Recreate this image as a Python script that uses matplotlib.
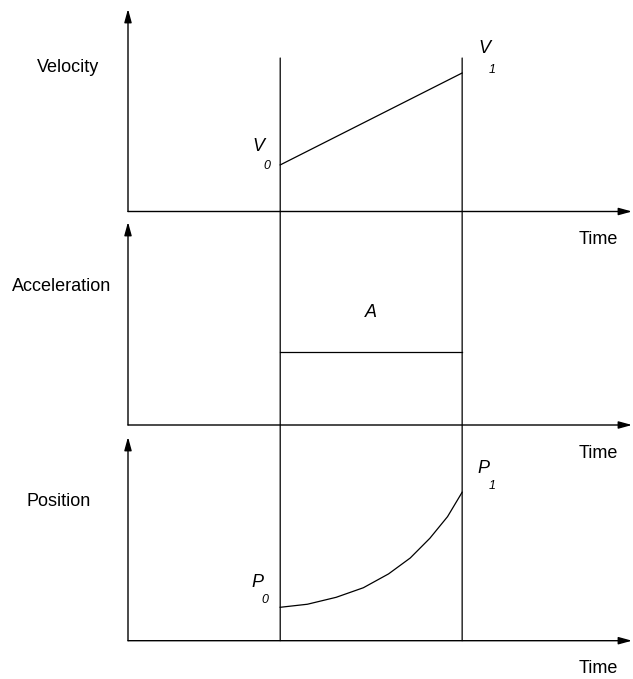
import matplotlib.pyplot as plt
from matplotlib.patches import ConnectionPatch

plt.rcParams['font.family'] = ['Liberation Sans', 'DejaVu Sans']

W, H = 633, 679

# schematic values (time and value units, both axes run 0..10)
t_marks = [3.02, 6.63]
velocity = [2.30, 6.84]
accel = 3.6
pos_t = [3.02, 3.56, 4.13, 4.67, 5.17, 5.60, 5.99, 6.34, 6.63]
pos_p = [1.64, 1.79, 2.13, 2.60, 3.28, 4.06, 5.03, 6.09, 7.29]
line_top = 7.58
panel_names = ["Velocity", "Acceleration", "Position"]

fig = plt.figure(figsize=(W / 100, H / 100), dpi=100)

# (baseline px, arrow tip px) for each panel
frames = [(211.5, 9), (425, 222), (640.7, 437)]
axes = []
for base, tip in frames:
    ax = fig.add_axes([128 / W, 1 - base / H, (632 - 128) / W, (base - tip) / H])
    ax.set_xlim(0, 10)
    ax.set_ylim(0, 10)
    ax.axis('off')
    arrow = dict(arrowstyle='-|>,head_length=0.8,head_width=0.22', lw=1.0,
                 color='black', shrinkA=0, shrinkB=0, mutation_scale=10)
    ax.annotate('', xy=(1, 0), xytext=(0, 0), xycoords='axes fraction',
                arrowprops=arrow)
    ax.annotate('', xy=(0, 1), xytext=(0, 0), xycoords='axes fraction',
                arrowprops=arrow)
    ax.annotate('Time', xy=(0.972, 0), xycoords='axes fraction',
                xytext=(0, -28), textcoords='offset pixels',
                ha='right', va='center', fontsize=13)
    axes.append(ax)
ax1, ax2, ax3 = axes

# panel titles on the left
label_pos = [(68, 67), (62, 286), (59, 502)]
for name, (x, y) in zip(panel_names, label_pos):
    fig.text(x / W, 1 - y / H, name, ha='center', va='center', fontsize=13)

# vertical time markers across all three panels
for t in t_marks:
    con = ConnectionPatch(xyA=(t, line_top), coordsA=ax1.transData,
                          xyB=(t, 0), coordsB=ax3.transData,
                          color='black', lw=0.9)
    fig.add_artist(con)

# velocity
ax1.plot(t_marks, velocity, color='black', lw=0.9)
# acceleration
ax2.plot(t_marks, [accel, accel], color='black', lw=0.9)
ax2.annotate('A', xy=(sum(t_marks) / 2, accel), xytext=(0, 39),
             textcoords='offset pixels', ha='center', va='center',
             fontsize=13, style='italic')
# position
ax3.plot(pos_t, pos_p, color='black', lw=0.9)


def point_label(ax, xy, letter, digit, off_l, off_d):
    ax.annotate(letter, xy=xy, xytext=off_l, textcoords='offset pixels',
                ha='center', va='center', fontsize=13, style='italic')
    ax.annotate(digit, xy=xy, xytext=off_d, textcoords='offset pixels',
                ha='center', va='center', fontsize=9, style='italic')


point_label(ax1, (t_marks[0], velocity[0]), 'V', '0', (-22, 18), (-13, -1))
point_label(ax1, (t_marks[1], velocity[1]), 'V', '1', (22, 24), (30, 3))
point_label(ax3, (pos_t[0], pos_p[0]), 'P', '0', (-23, 25), (-15, 7))
point_label(ax3, (pos_t[-1], pos_p[-1]), 'P', '1', (21, 24), (30, 6))

plt.savefig("out.png", dpi=100)
